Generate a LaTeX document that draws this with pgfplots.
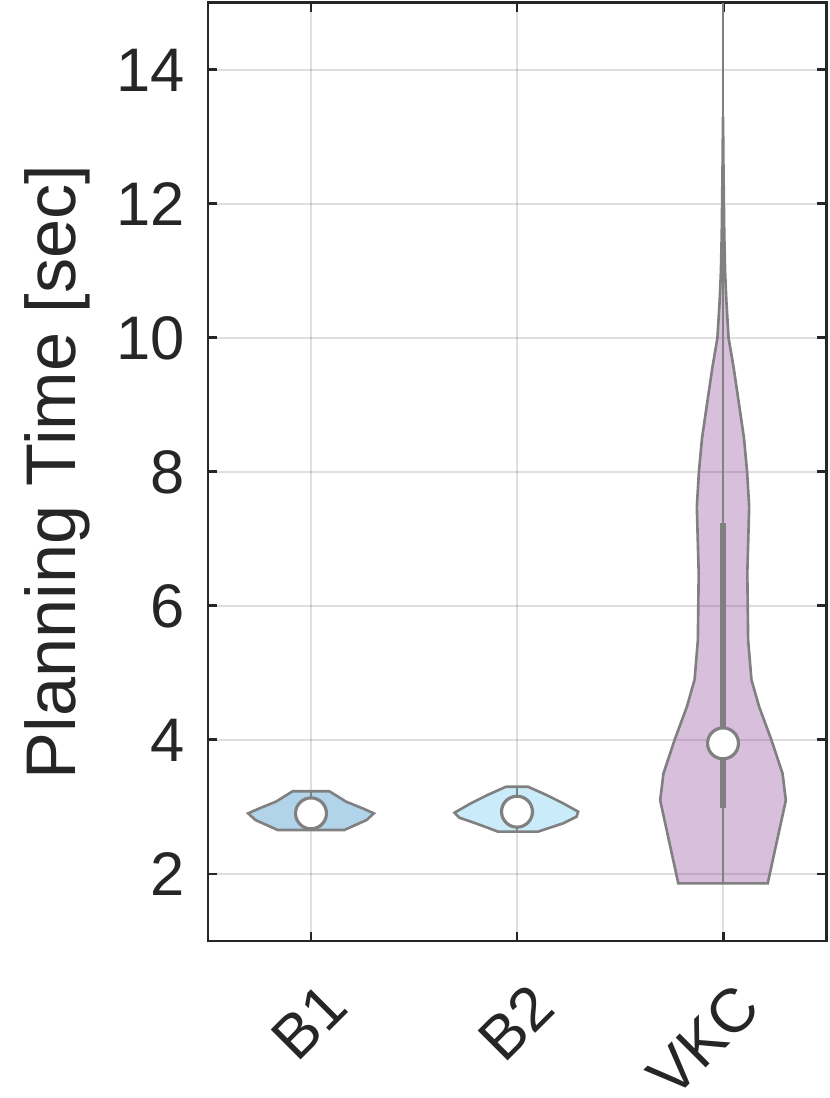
\documentclass[border=0pt]{standalone}
\usepackage{fontspec}
\setmainfont{Liberation Sans}
\usepackage{pgfplots}
\pgfplotsset{compat=1.18}
\usetikzlibrary{calc}
\definecolor{axgray}{HTML}{262626}
\definecolor{edge}{HTML}{808080}
\definecolor{cB1}{rgb}{0,0.447,0.741}
\definecolor{cB2}{rgb}{0.301,0.745,0.933}
\definecolor{cVKC}{rgb}{0.494,0.184,0.556}

\begin{document}
\begin{tikzpicture}
\begin{axis}[scale only axis,width=6.18cm,height=9.38cm,
  xmin=0.5,xmax=3.5,ymin=1,ymax=15,
  xtick={1,2,3},xticklabels={B1,B2,VKC},
  ytick={2,4,...,14},
  grid=major,
  major grid style={color=axgray,opacity=0.15,line width=0.7pt},
  axis line style={axgray,line width=0.85pt},
  tick style={axgray,line width=0.85pt},
  major tick length=2.6pt,
  tick align=inside,
  /pgf/number format/assume math mode=true,
  tick label style={font=\fontsize{17.5}{20}\selectfont,text=axgray},
  xticklabel style={xshift=2.8pt,yshift=-11pt,rotate=45,anchor=north east,inner sep=0pt},
  yticklabel style={xshift=-3pt},
  ylabel={Planning Time [sec]},
  ylabel style={font=\fontsize{20}{22}\selectfont,text=axgray,yshift=0.8pt},
]
% violins
\addplot[fill=cB1,fill opacity=0.3,draw=edge,line width=0.75pt] coordinates {
 (1.162,2.657) (1.27,2.806) (1.305,2.905) (1.25,2.98) (1.17,3.08) (1.089,3.235)
 (0.911,3.235) (0.83,3.08) (0.75,2.98) (0.695,2.905) (0.73,2.806) (0.838,2.657)} -- cycle;
\addplot[fill=cB2,fill opacity=0.3,draw=edge,line width=0.75pt] coordinates {
 (2.102,2.632) (2.224,2.756) (2.289,2.856) (2.297,2.93) (2.224,3.055) (2.143,3.179) (2.053,3.303)
 (1.947,3.303) (1.857,3.179) (1.776,3.055) (1.697,2.915) (1.72,2.84) (1.8,2.756) (1.908,2.632)} -- cycle;
\addplot[fill=cVKC,fill opacity=0.3,draw=edge,line width=0.75pt] coordinates {
 (3.217,1.86) (3.305,3.10) (3.289,3.50) (3.235,4.00) (3.175,4.50) (3.138,4.90)
 (3.122,5.49) (3.118,6.49) (3.127,7.48) (3.117,8.0) (3.102,8.5)
 (3.075,9.07) (3.051,9.57) (3.027,10.0) (3.016,10.57) (3.010,11.0) (3.006,11.57) (3.002,12.6) (3.0,13.3)
 (2.998,12.6) (2.994,11.57) (2.990,11.0) (2.984,10.57) (2.973,10.0) (2.949,9.57) (2.925,9.07)
 (2.898,8.5) (2.883,8.0) (2.873,7.48) (2.882,6.49) (2.878,5.49)
 (2.862,4.90) (2.825,4.50) (2.765,4.00) (2.711,3.50) (2.695,3.10) (2.783,1.86)} -- cycle;
% whiskers
\addplot[edge,line width=0.75pt] coordinates {(1,2.657) (1,3.235)};
\addplot[edge,line width=0.75pt] coordinates {(2,2.632) (2,3.303)};
\addplot[edge,line width=0.75pt] coordinates {(3,1.86) (3,15)};
% boxes
\addplot[edge,line width=1.7pt] coordinates {(1,2.80) (1,3.00)};
\addplot[edge,line width=1.7pt] coordinates {(2,2.84) (2,3.02)};
\addplot[edge,line width=1.7pt] coordinates {(3,2.98) (3,7.24)};
% medians
\addplot[only marks,mark=*,mark size=4.4pt,mark options={fill=white,draw=edge,line width=0.9pt}]
 coordinates {(1,2.905) (2,2.93) (3,3.95)};
\end{axis}
\pgfresetboundingbox
\path ($(current axis.south west)+(-2.08cm,-1.57cm)$) rectangle ($(current axis.north east)+(0.04cm,0.03cm)$);
\end{tikzpicture}
\end{document}
